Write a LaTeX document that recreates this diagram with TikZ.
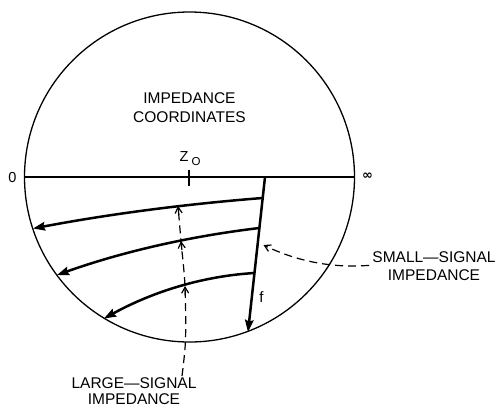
\documentclass[tikz,border=0pt]{standalone}
\usepackage{fontspec}
\setmainfont{Liberation Sans}
\newfontfamily\symfam{DejaVu Sans}
\usetikzlibrary{arrows.meta,calc}
\begin{document}
\begin{tikzpicture}[x=1pt,y=-1pt,
  thinline/.style={line width=1.3pt},
  heavy/.style={line width=2.5pt, -{Stealth[length=12pt,width=8.5pt,inset=1.5pt]}},
  dashline/.style={line width=1.2pt, dash pattern=on 8pt off 5pt},
  barb/.style={line width=1.2pt,-{Straight Barb[length=6pt,width=7pt]}},
  lbl/.style={font=\fontsize{15.5}{19}\selectfont, inner sep=0pt, align=center}
]
\useasboundingbox (0,0) rectangle (502,408);

% chart
\node[circle, draw, thinline, minimum size=330pt, inner sep=0pt] (chart) at (189.5,177) {};
\draw[thinline] (chart.west) -- (chart.east);
\coordinate (tkA) at (189,170);
\coordinate (tkB) at (189,186);
\draw[line width=1.2pt] (tkA) -- (tkB);

% labels
\node[lbl] (coord) at (189.5,107.5) {IMPEDANCE\\COORDINATES};
\node[font=\fontsize{14.5}{16}\selectfont, inner sep=0pt] (zerolab) at (12.5,178) {0};
\node[font=\symfam\bfseries\fontsize{13}{15}\selectfont, inner sep=0pt] (inflab) at (367.5,176) {∞};
\node[font=\fontsize{14.5}{16}\selectfont, inner sep=0pt] (zz) at (184,157) {Z};
\node[font=\fontsize{11.5}{13}\selectfont, inner sep=0pt] (zo) at (196,162) {O};
\node[font=\fontsize{15}{17}\selectfont, inner sep=0pt] (flab) at (261.5,297.5) {f};
\node[lbl, font=\fontsize{15.5}{18.5}\selectfont] (small) at (434,266) {SMALL—SIGNAL\\IMPEDANCE};
\node[lbl, font=\fontsize{15.5}{16}\selectfont] (large) at (134,391) {LARGE—SIGNAL\\IMPEDANCE};

% frequency locus
\coordinate (v0) at (265,177);
\coordinate (vf) at (248,332);
\draw[heavy] (v0) -- (vf);

% large-signal curves
\coordinate (s1) at (262.6,198);
\coordinate (e1) at (33,228.5);
\coordinate (s2) at (259.4,228);
\coordinate (e2) at (57,275);
\coordinate (s3) at (254.5,273);
\coordinate (e3) at (104,318.5);
\draw[heavy] (s1) .. controls (186,204) and (109.5,214) .. (e1);
\draw[heavy] (s2) .. controls (192,236) and (124.5,251) .. (e2);
\draw[heavy] (s3) .. controls (204,276) and (154,291) .. (e3);

% large-signal dashed pointer
\coordinate (lb) at (182,376);
\coordinate (lm) at (185.5,340);
\coordinate (t3) at (185,286);
\coordinate (t2) at (181,241);
\coordinate (t1) at (178,206);
\draw[dashline] plot[smooth] coordinates {(lb) (lm) (t3) (t2) (t1)};
\draw[barb] ($(t1)+(0.8,9)$) -- (t1);
\draw[barb] ($(t2)+(0.9,9)$) -- (t2);
\draw[barb] ($(t3)+(0.2,9)$) -- (t3);

% small-signal dashed pointer
\coordinate (sb) at (369,265.5);
\coordinate (sk) at (352,266);
\coordinate (st) at (263.5,245);
\draw[dashline, -{Straight Barb[length=6pt,width=7pt]}] (sb) -- (sk) .. controls (320,266) and (290,258) .. (st);
\end{tikzpicture}
\end{document}
